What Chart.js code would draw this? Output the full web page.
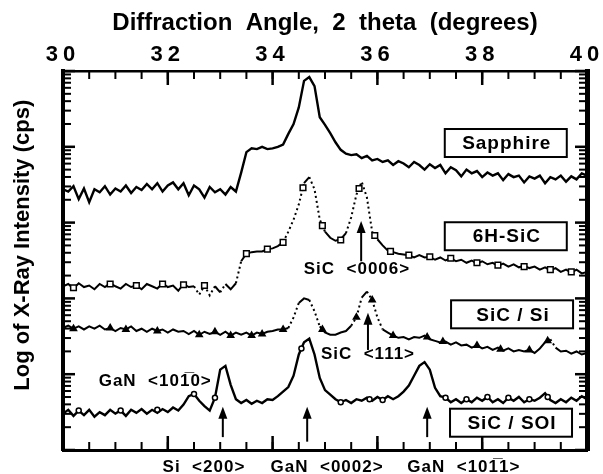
<!DOCTYPE html>
<html>
<head>
<meta charset="utf-8">
<script src="https://cdn.jsdelivr.net/npm/chart.js@4.4.1/dist/chart.umd.min.js"></script>
<style>
  html, body { margin: 0; padding: 0; background: #fff; }
  #wrap { width: 603px; height: 474px; position: relative; }
</style>
</head>
<body>
<div id="wrap"><canvas id="xrd"></canvas></div>
<script>
// DATA (2 theta in degrees, intensity in log units, curves stacked)
const angles = [
  30.0, 30.1, 30.2, 30.3, 30.4, 30.5, 30.6, 30.7, 30.8, 30.9,
  31.0, 31.1, 31.2, 31.3, 31.4, 31.5, 31.6, 31.7, 31.8, 31.9,
  32.0, 32.1, 32.2, 32.3, 32.4, 32.5, 32.6, 32.7, 32.8, 32.9,
  33.0, 33.1, 33.2, 33.3, 33.4, 33.5, 33.6, 33.7, 33.8, 33.9,
  34.0, 34.1, 34.2, 34.3, 34.4, 34.5, 34.6, 34.7, 34.8, 34.9,
  35.0, 35.1, 35.2, 35.3, 35.4, 35.5, 35.6, 35.7, 35.8, 35.9,
  36.0, 36.1, 36.2, 36.3, 36.4, 36.5, 36.6, 36.7, 36.8, 36.9,
  37.0, 37.1, 37.2, 37.3, 37.4, 37.5, 37.6, 37.7, 37.8, 37.9,
  38.0, 38.1, 38.2, 38.3, 38.4, 38.5, 38.6, 38.7, 38.8, 38.9,
  39.0, 39.1, 39.2, 39.3, 39.4, 39.5, 39.6, 39.7, 39.8, 39.9,
  40.0
];

const sapphire = [
  3.44, 3.41, 3.48, 3.31, 3.45, 3.27, 3.44, 3.40, 3.48, 3.37,
  3.45, 3.41, 3.49, 3.39, 3.47, 3.43, 3.51, 3.44, 3.52, 3.41,
  3.49, 3.53, 3.44, 3.52, 3.36, 3.49, 3.44, 3.33, 3.47, 3.40,
  3.44, 3.37, 3.47, 3.41, 3.66, 3.93, 3.98, 3.97, 4.00, 3.97,
  3.98, 4.00, 4.03, 4.17, 4.30, 4.52, 4.87, 4.92, 4.80, 4.39,
  4.29, 4.18, 4.06, 3.96, 3.91, 3.89, 3.90, 3.85, 3.88, 3.82,
  3.84, 3.80, 3.82, 3.76, 3.81, 3.78, 3.73, 3.80, 3.76, 3.70,
  3.77, 3.72, 3.76, 3.65, 3.73, 3.69, 3.61, 3.70, 3.65, 3.68,
  3.60, 3.66, 3.62, 3.65, 3.56, 3.64, 3.60, 3.62, 3.53, 3.61,
  3.58, 3.62, 3.52, 3.60, 3.57, 3.62, 3.54, 3.61, 3.57, 3.65,
  3.62
];

const sic6h = [
  2.16, 2.19, 2.13, 2.20, 2.15, 2.17, 2.12, 2.19, 2.15, 2.20,
  2.16, 2.13, 2.19, 2.15, 2.17, 2.12, 2.19, 2.16, 2.13, 2.20,
  2.15, 2.17, 2.10, 2.19, 2.15, 2.16, 2.05, 2.17, 2.04, 2.16,
  2.08, 2.19, 2.12, 2.20, 2.49, 2.59, 2.61, 2.62, 2.62, 2.65,
  2.66, 2.69, 2.74, 2.88, 3.04, 3.24, 3.52, 3.60, 3.44, 3.04,
  2.88, 2.80, 2.76, 2.78, 2.86, 3.07, 3.37, 3.54, 3.33, 2.88,
  2.78, 2.70, 2.63, 2.61, 2.59, 2.58, 2.57, 2.54, 2.57, 2.54,
  2.55, 2.51, 2.54, 2.50, 2.53, 2.49, 2.51, 2.47, 2.50, 2.46,
  2.49, 2.45, 2.47, 2.43, 2.46, 2.42, 2.45, 2.41, 2.43, 2.40,
  2.42, 2.38, 2.41, 2.37, 2.40, 2.35, 2.38, 2.34, 2.38, 2.33,
  2.35
];

const sicOnSi = [
  1.61, 1.64, 1.60, 1.63, 1.59, 1.63, 1.60, 1.64, 1.59, 1.61,
  1.57, 1.61, 1.59, 1.63, 1.57, 1.60, 1.56, 1.60, 1.57, 1.59,
  1.55, 1.59, 1.56, 1.57, 1.53, 1.57, 1.52, 1.56, 1.53, 1.56,
  1.52, 1.56, 1.51, 1.55, 1.52, 1.55, 1.51, 1.55, 1.53, 1.56,
  1.57, 1.59, 1.59, 1.61, 1.75, 1.94, 2.00, 1.98, 1.83, 1.63,
  1.55, 1.52, 1.52, 1.55, 1.57, 1.64, 1.75, 2.01, 2.09, 1.98,
  1.75, 1.59, 1.55, 1.51, 1.48, 1.49, 1.46, 1.49, 1.48, 1.51,
  1.46, 1.44, 1.42, 1.43, 1.39, 1.42, 1.38, 1.39, 1.35, 1.38,
  1.34, 1.36, 1.32, 1.35, 1.31, 1.34, 1.30, 1.32, 1.30, 1.32,
  1.28, 1.34, 1.42, 1.46, 1.35, 1.30, 1.31, 1.27, 1.30, 1.26,
  1.28
];

const sicOnSoi = [
  0.48, 0.53, 0.45, 0.52, 0.46, 0.53, 0.44, 0.50, 0.46, 0.53,
  0.48, 0.52, 0.45, 0.53, 0.49, 0.54, 0.48, 0.53, 0.49, 0.54,
  0.50, 0.56, 0.52, 0.60, 0.71, 0.74, 0.65, 0.58, 0.52, 0.69,
  1.06, 1.11, 0.86, 0.67, 0.62, 0.66, 0.61, 0.65, 0.62, 0.67,
  0.66, 0.71, 0.77, 0.83, 0.98, 1.26, 1.42, 1.47, 1.26, 0.95,
  0.79, 0.73, 0.67, 0.63, 0.66, 0.62, 0.67, 0.65, 0.69, 0.65,
  0.70, 0.66, 0.71, 0.67, 0.71, 0.77, 0.85, 0.98, 1.11, 1.16,
  1.06, 0.82, 0.71, 0.69, 0.63, 0.67, 0.62, 0.67, 0.63, 0.69,
  0.65, 0.70, 0.63, 0.67, 0.62, 0.69, 0.65, 0.70, 0.63, 0.67,
  0.65, 0.69, 0.75, 0.66, 0.62, 0.67, 0.63, 0.69, 0.65, 0.71,
  0.67
];

// marker symbols drawn on the measured curves
const sic6hMarkAngles = [30.2, 30.9, 31.4, 31.9, 32.3, 32.7, 33.5, 33.9, 34.2, 34.58, 34.95, 35.3,
                         35.65, 35.95, 36.25, 36.6, 37.0, 37.4, 37.9, 38.3, 38.8, 39.3, 39.7];
const sic6hMarkValues = [2.14, 2.19, 2.17, 2.19, 2.18, 2.17, 2.59, 2.65, 2.74, 3.46, 2.96, 2.77,
                         3.45, 2.83, 2.62, 2.57, 2.55, 2.53, 2.47, 2.44, 2.42, 2.38, 2.35];
const sicSiMarkAngles = [30.2, 30.9, 31.2, 31.8, 32.6, 32.9, 33.2, 33.6, 33.8, 34.2, 34.95, 35.6,
                         35.9, 36.3, 36.95, 37.25, 37.9, 38.35, 38.9, 39.25];
const sicSiMarkValues = [1.60, 1.61, 1.59, 1.57, 1.52, 1.56, 1.51, 1.51, 1.53, 1.59, 1.59, 1.75,
                         1.98, 1.51, 1.49, 1.43, 1.38, 1.33, 1.32, 1.44];
const soiMarkAngles = [30.3, 31.1, 31.8, 32.5, 32.9, 34.55, 35.3, 35.85, 36.1, 37.3, 37.7, 38.1,
                       38.5, 38.9, 39.25];
const soiMarkValues = [0.52, 0.52, 0.53, 0.74, 0.69, 1.34, 0.63, 0.67, 0.66, 0.69, 0.67, 0.70,
                       0.69, 0.67, 0.70];

// axis ticks
const xMajorStep = 2;
const xMinorStep = 0.5;
const logDecades = [0, 1, 2, 3, 4];
const logSteps = [2, 3, 4, 5, 6, 7, 8, 9];

// sample boxes and peak annotations
const boxLabels = ['Sapphire', '6H-SiC', 'SiC / Si', 'SiC / SOI'];
const boxAngles = [38.45, 38.45, 38.57, 38.55];
const boxLevels = [4.05, 2.82, 1.79, 0.36];

const peakLabels = ['SiC  <0006>', 'SiC  <111>', 'GaN  <101\u03050>', 'Si  <200>', 'GaN  <0002>', 'GaN  <101\u03051>'];
const peakLabelAngles = [35.61, 35.82, 31.76, 32.69, 35.04, 37.65];
const peakLabelLevels = [2.38, 1.26, 0.90, -0.225, -0.225, -0.225];

const arrowAngles = [35.69, 35.82, 33.05, 34.66, 36.95];
const arrowFrom = [2.49, 1.32, 0.17, 0.11, 0.17];
const arrowTo = [3.02, 1.81, 0.57, 0.57, 0.57];

// CHART
const FONT = 'Liberation Sans, Arial, Helvetica, sans-serif';
const toPoints = (xs, ys) => xs.map((x, i) => ({ x: x, y: ys[i] }));
const minorLogTicks = logDecades.flatMap(d => logSteps.map(m => d + Math.log10(m)));
const decadeTicks = logDecades.concat([5]);
const xMinorTicks = [];
for (let v = 30 + xMinorStep; v < 40; v += xMinorStep) xMinorTicks.push(v);
const xMajorTicks = xMinorTicks.filter(v => v % xMajorStep === 0);

function fixSize(size) {
  return scale => {
    if (scale.isHorizontal()) scale.height = size;
    else scale.width = size;
    scale.paddingLeft = scale.paddingRight = scale.paddingTop = scale.paddingBottom = 0;
  };
}
// steep parts of the sparse scans look dotted in the original
const steepDash = ctx => Math.abs(ctx.p1.parsed.y - ctx.p0.parsed.y) > 0.1 ? [2, 3] : undefined;

const noGrid = { drawOnChartArea: false, drawTicks: false };

const scales = {
  x: {
    type: 'linear', position: 'top', min: 30, max: 40,
    ticks: { stepSize: xMajorStep, color: '#000', padding: 3, z: 1,
             font: { family: FONT, size: 22, weight: 'bold' } },
    grid: noGrid,
    border: { color: '#000', width: 2.5 },
    title: { display: true, text: 'Diffraction  Angle,  2  theta  (degrees)', color: '#000',
             font: { family: FONT, size: 24, weight: 'bold' }, padding: { top: 9, bottom: 0 } },
    afterFit: fixSize(71)
  },
  xBottom: {
    type: 'linear', position: 'bottom', min: 30, max: 40,
    ticks: { display: false }, grid: noGrid,
    border: { color: '#000', width: 3 },
    afterFit: fixSize(24)
  },
  y: {
    type: 'linear', position: 'left', min: 0, max: 5,
    ticks: { display: false }, grid: noGrid,
    border: { color: '#000', width: 4 },
    title: { display: true, text: '\u00a0\u00a0\u00a0\u00a0\u00a0Log of X-Ray Intensity (cps)', color: '#000',
             font: { family: FONT, size: 22, weight: 'bold' }, padding: { top: 10, bottom: 0 } },
    afterFit: fixSize(63)
  },
  yRight: {
    type: 'linear', position: 'right', min: 0, max: 5,
    ticks: { display: false }, grid: noGrid,
    border: { color: '#000', width: 5 },
    afterFit: fixSize(16)
  }
};

// inward frame ticks: [values, length, width, side]
const frameTicks = [
  [xMinorTicks, 8, 2, 'top'], [xMajorTicks, 14, 2.5, 'top'],
  [xMinorTicks, 8, 2, 'bottom'], [xMajorTicks, 14, 2.5, 'bottom'],
  [minorLogTicks, 8, 2, 'left'], [decadeTicks, 12, 2.5, 'left'],
  [minorLogTicks, 8, 2, 'right'], [decadeTicks, 12, 2.5, 'right']
];

const annotate = {
  id: 'annotate',
  beforeDraw(chart) { chart.ctx.letterSpacing = '0px'; },
  // the x tick labels are drawn after the datasets (ticks.z = 1) with wide spacing
  afterDatasetsDraw(chart) { chart.ctx.letterSpacing = '5px'; },
  afterDraw(chart) {
    const ctx = chart.ctx;
    const area = chart.chartArea;
    const x = chart.scales.x, y = chart.scales.y;
    ctx.letterSpacing = '0px';
    ctx.save();
    ctx.setLineDash([]);
    ctx.fillStyle = '#000';
    ctx.strokeStyle = '#000';

    // tick marks pointing into the plot, placed through the chart scales
    frameTicks.forEach(([values, len, width, side]) => {
      values.forEach(v => {
        if (side === 'top' || side === 'bottom') {
          const p = x.getPixelForValue(v);
          ctx.fillRect(p - width / 2, side === 'top' ? area.top : area.bottom - len, width, len);
        } else {
          const p = y.getPixelForValue(v);
          ctx.fillRect(side === 'left' ? area.left : area.right - len, p - width / 2, len, width);
        }
      });
    });

    // arrows
    ctx.lineWidth = 2;
    arrowAngles.forEach((a, i) => {
      const px = x.getPixelForValue(a);
      const y0 = y.getPixelForValue(arrowFrom[i]);
      const y1 = y.getPixelForValue(arrowTo[i]);
      ctx.beginPath();
      ctx.moveTo(px, y0);
      ctx.lineTo(px, y1 + 8);
      ctx.stroke();
      ctx.beginPath();
      ctx.moveTo(px, y1);
      ctx.lineTo(px - 4.5, y1 + 12);
      ctx.lineTo(px + 4.5, y1 + 12);
      ctx.closePath();
      ctx.fill();
    });

    ctx.letterSpacing = '1px';
    ctx.textAlign = 'center';
    ctx.textBaseline = 'middle';

    // peak labels
    ctx.font = 'bold 17px ' + FONT;
    peakLabels.forEach((t, i) => {
      ctx.fillText(t, x.getPixelForValue(peakLabelAngles[i]), y.getPixelForValue(peakLabelLevels[i]));
    });

    // sample boxes
    ctx.font = 'bold 19px ' + FONT;
    ctx.lineWidth = 2;
    boxLabels.forEach((t, i) => {
      const cx = x.getPixelForValue(boxAngles[i]);
      const cy = y.getPixelForValue(boxLevels[i]);
      ctx.fillStyle = '#fff';
      ctx.fillRect(cx - 61, cy - 14, 122, 28);
      ctx.strokeRect(cx - 61, cy - 14, 122, 28);
      ctx.fillStyle = '#000';
      ctx.fillText(t, cx + 1, cy + 1);
    });
    ctx.restore();
  }
};

const line = (label, values, width, dashed) => ({
  label: label, data: toPoints(angles, values), order: 1,
  borderColor: '#000', borderWidth: width, pointRadius: 0, tension: 0,
  segment: dashed ? { borderDash: steepDash } : {}
});
const marks = (label, xs, ys, style, radius, fill) => ({
  label: label, data: toPoints(xs, ys), order: 0, showLine: false,
  pointStyle: style, pointRadius: radius, pointBorderWidth: 1.5,
  pointBorderColor: '#000', pointBackgroundColor: fill
});

new Chart(document.getElementById('xrd'), {
  type: 'line',
  data: {
    datasets: [
      line('Sapphire', sapphire, 2.4, false),
      line('6H-SiC', sic6h, 2, true),
      marks('6H-SiC markers', sic6hMarkAngles, sic6hMarkValues, 'rect', 4, '#fff'),
      line('SiC / Si', sicOnSi, 2, true),
      marks('SiC / Si markers', sicSiMarkAngles, sicSiMarkValues, 'triangle', 3.5, '#000'),
      line('SiC / SOI', sicOnSoi, 2.4, false),
      marks('SiC / SOI markers', soiMarkAngles, soiMarkValues, 'circle', 2.5, '#fff')
    ]
  },
  options: {
    responsive: true,
    maintainAspectRatio: false,
    animation: false,
    events: [],
    layout: { padding: 0 },
    scales: scales,
    plugins: { legend: { display: false }, tooltip: { enabled: false } }
  },
  plugins: [annotate]
});
</script>
</body>
</html>
